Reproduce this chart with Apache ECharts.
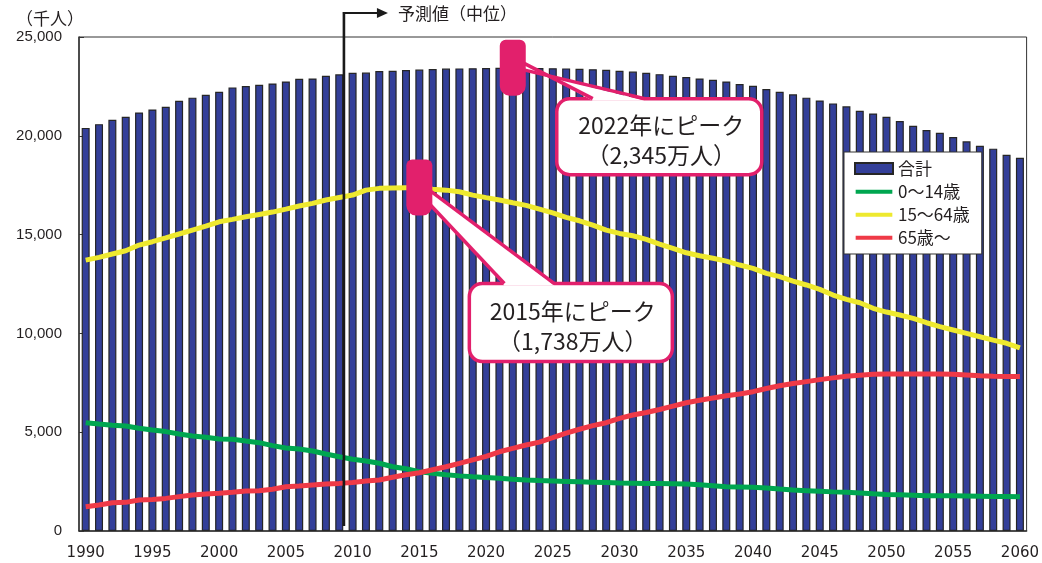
<!DOCTYPE html>
<html>
<head>
<meta charset="utf-8">
<script src="https://cdn.jsdelivr.net/npm/echarts@6/dist/echarts.min.js"></script>
<style>
  html, body { margin: 0; padding: 0; background: #fff; }
  #main { width: 1042px; height: 563px; }
</style>
</head>
<body>
<div id="main"></div>
<script>
var years = [];
for (var y = 1990; y <= 2060; y++) years.push(String(y));

// 合計 (千人)
var total = [
  20400, 20590, 20810, 20960, 21180, 21330, 21470, 21770, 21930, 22080,
  22230, 22450, 22520, 22580, 22650, 22750, 22890, 22900, 23040, 23110,
  23190, 23200, 23280, 23290, 23330, 23350, 23380, 23400, 23410, 23420,
  23430, 23440, 23450, 23440, 23430, 23420, 23410, 23390, 23370, 23340,
  23290, 23250, 23190, 23120, 23040, 22970, 22900, 22840, 22750, 22620,
  22530, 22370, 22230, 22100, 21930, 21790, 21640, 21490, 21270, 21130,
  20960, 20750, 20510, 20290, 20150, 19940, 19720, 19500, 19350, 19040,
  18890
];
// 0～14歳
var age0_14 = [
  5480, 5410, 5350, 5310, 5200, 5110, 5030, 4910, 4810, 4740,
  4660, 4640, 4550, 4470, 4320, 4200, 4150, 4050, 3900, 3760,
  3630, 3540, 3430, 3250, 3150, 3000, 2920, 2850, 2790, 2740,
  2710, 2670, 2620, 2580, 2550, 2530, 2510, 2490, 2470, 2450,
  2430, 2420, 2410, 2400, 2390, 2380, 2340, 2290, 2240, 2230,
  2210, 2180, 2120, 2070, 2040, 2010, 1980, 1960, 1920, 1880,
  1850, 1830, 1810, 1790, 1780, 1780, 1770, 1760, 1750, 1740,
  1730
];
// 15～64歳
var age15_64 = [
  13710, 13850, 14020, 14180, 14470, 14640, 14830, 15030, 15230, 15430,
  15650, 15770, 15900, 16020, 16140, 16290, 16450, 16580, 16750, 16880,
  17000, 17250, 17340, 17360, 17370, 17380, 17290, 17250, 17170, 17000,
  16870, 16750, 16610, 16480, 16290, 16100, 15870, 15700, 15480, 15230,
  15060, 14940, 14760, 14520, 14300, 14080, 13930, 13800, 13660, 13460,
  13290, 13040, 12870, 12650, 12450, 12230, 11940, 11720, 11550, 11270,
  11080, 10930, 10760, 10540, 10340, 10170, 10000, 9830, 9660, 9500,
  9270
];
// 65歳～
var age65 = [
  1230, 1320, 1430, 1450, 1570, 1600, 1650, 1740, 1820, 1870,
  1910, 1960, 2020, 2040, 2110, 2240, 2280, 2330, 2380, 2410,
  2460, 2530, 2580, 2720, 2850, 2950, 3100, 3250, 3420, 3600,
  3780, 4010, 4180, 4350, 4500, 4720, 4950, 5150, 5330, 5480,
  5700, 5870, 6000, 6150, 6320, 6490, 6620, 6730, 6840, 6930,
  7050, 7210, 7350, 7460, 7560, 7660, 7750, 7830, 7880, 7930,
  7950, 7950, 7950, 7940, 7940, 7930, 7900, 7860, 7830, 7820,
  7820
];

var yTicks = [0, 5000, 10000, 15000, 20000, 25000];
var callouts = [
  { year: '2022', value: 23450, lines: ['2022年にピーク', '（2,345万人）'] },
  { year: '2015', value: 17380, lines: ['2015年にピーク', '（1,738万人）'] }
];

var TXT = '#231f20';
var PINK = '#e2206c';
var JP = '"Noto Sans CJK JP", sans-serif';
// thin horizontal stroke inside a taller invisible box, for the legend line icons
var LINE_ICON = 'path://M0,0 L0.01,0 L0.01,0.01 Z M0,4 L40,4 L40,8.5 L0,8.5 Z M0,12 L0.01,12 L0.01,11.99 Z';

var myChart = echarts.init(document.getElementById('main'));

myChart.setOption({
  animation: false,
  textStyle: { fontFamily: JP, color: TXT },
  grid: {
    left: 79, right: 14, top: 37, bottom: 32,
    show: true, borderColor: '#333', borderWidth: 1
  },
  legend: {
    orient: 'vertical',
    left: 844, top: 152,
    backgroundColor: '#fff',
    borderColor: '#333', borderWidth: 1, borderRadius: 0,
    padding: [8, 12, 8, 10],
    itemGap: 6, itemWidth: 38, itemHeight: 11,
    textStyle: { fontSize: 17, color: TXT, fontFamily: JP },
    data: [
      { name: '合計', icon: 'rect' },
      { name: '0～14歳', icon: LINE_ICON },
      { name: '15～64歳', icon: LINE_ICON },
      { name: '65歳～', icon: LINE_ICON }
    ]
  },
  xAxis: {
    type: 'category',
    data: years,
    axisLine: { lineStyle: { color: '#333', width: 1.5 } },
    axisTick: { inside: true, length: 5, interval: 0, lineStyle: { color: '#555' } },
    axisLabel: {
      interval: 4, margin: 15, fontSize: 15, color: TXT,
      fontFamily: '"DejaVu Sans", sans-serif'
    },
    splitLine: { show: false }
  },
  yAxis: {
    type: 'value',
    min: yTicks[0], max: yTicks[yTicks.length - 1], interval: 5000,
    axisLine: { show: true, lineStyle: { color: '#333', width: 1.5 } },
    axisTick: { show: true, inside: true, length: 5, lineStyle: { color: '#333' } },
    axisLabel: {
      margin: 17, fontSize: 15, color: TXT,
      fontFamily: '"Liberation Sans", sans-serif',
      formatter: function (v) { return echarts.format.addCommas(v); }
    },
    splitLine: { show: false }
  },
  series: [
    {
      name: '合計', type: 'bar', data: total, barWidth: 8,
      itemStyle: { color: '#333f99', borderColor: '#262626', borderWidth: 1.2 },
      z: 2
    },
    {
      name: '0～14歳', type: 'line', data: age0_14, symbol: 'none',
      lineStyle: { color: '#00a650', width: 5 }, itemStyle: { color: '#00a650' }, z: 3
    },
    {
      name: '15～64歳', type: 'line', data: age15_64, symbol: 'none',
      lineStyle: { color: '#eee92f', width: 5 }, itemStyle: { color: '#eee92f' }, z: 3
    },
    {
      name: '65歳～', type: 'line', data: age65, symbol: 'none',
      lineStyle: { color: '#ef3a47', width: 5 }, itemStyle: { color: '#ef3a47' }, z: 3
    }
  ]
});

// annotations, placed from the chart's own scales
var g = [];
var toPx = function (cat, val) {
  return myChart.convertToPixel({ xAxisIndex: 0, yAxisIndex: 0 }, [cat, val]);
};
var p09 = toPx('2009', 0), p10 = toPx('2010', 0);
var lx = (p09[0] + p10[0]) / 2 - 2;
var bottomY = p09[1];

g.push({ type: 'line', z: 50, shape: { x1: lx, y1: 12, x2: lx, y2: bottomY - 5 },
  style: { stroke: '#1a1a1a', lineWidth: 2.6 } });
g.push({ type: 'line', z: 50, shape: { x1: lx - 1, y1: 13, x2: lx + 34, y2: 13 },
  style: { stroke: '#1a1a1a', lineWidth: 2.2 } });
g.push({ type: 'polygon', z: 50, shape: { points: [[lx + 33, 8], [lx + 44, 13], [lx + 33, 18]] },
  style: { fill: '#1a1a1a' } });
g.push({ type: 'text', z: 50, x: lx + 54, y: 14,
  style: { text: '予測値（中位）', font: '17px ' + JP, fill: TXT, verticalAlign: 'middle' } });
g.push({ type: 'text', z: 50, x: 16, y: 19,
  style: { text: '（千人）', font: '17px ' + JP, fill: TXT, verticalAlign: 'middle' } });

// callout geometry relative to the peak point
var shapes = [
  { box: [44, 31, 205, 76], tip: [[10, -5], [10, 2]], base: [80, 132] },
  { box: [50, 96, 203, 78], tip: [[6, 12], [12, 4]], base: [85, 135] }
];

callouts.forEach(function (c, i) {
  var p = toPx(c.year, c.value);
  var s = shapes[i];
  var bx = p[0] + s.box[0], by = p[1] + s.box[1], bw = s.box[2], bh = s.box[3];
  var t0 = [p[0] + s.tip[0][0], p[1] + s.tip[0][1]];
  var t1 = [p[0] + s.tip[1][0], p[1] + s.tip[1][1]];
  var bl = [p[0] + s.base[0], by + 2], br = [p[0] + s.base[1], by + 2];
  g.push({ type: 'rect', z: 60, shape: { x: bx, y: by, width: bw, height: bh, r: 13 },
    style: { fill: '#fff', stroke: PINK, lineWidth: 3.5 } });
  g.push({ type: 'polygon', z: 61, shape: { points: [t0, bl, br, t1] },
    style: { fill: '#fff' } });
  g.push({ type: 'polyline', z: 62, shape: { points: [t0, [bl[0], by]] },
    style: { stroke: PINK, lineWidth: 3.5 } });
  g.push({ type: 'polyline', z: 62, shape: { points: [t1, [br[0], by]] },
    style: { stroke: PINK, lineWidth: 3.5 } });
  g.push({ type: 'rect', z: 63, shape: { x: p[0] - 13, y: p[1] - 28, width: 26, height: 56, r: [6, 6, 10, 10] },
    style: { fill: PINK } });
  g.push({ type: 'text', z: 64, x: bx + bw / 2 + 2, y: by + bh / 2 + 4,
    style: { text: c.lines.join('\n'), font: '23px ' + JP, fill: TXT,
      align: 'center', verticalAlign: 'middle', lineHeight: 30 } });
});

myChart.setOption({ graphic: g });
</script>
</body>
</html>
